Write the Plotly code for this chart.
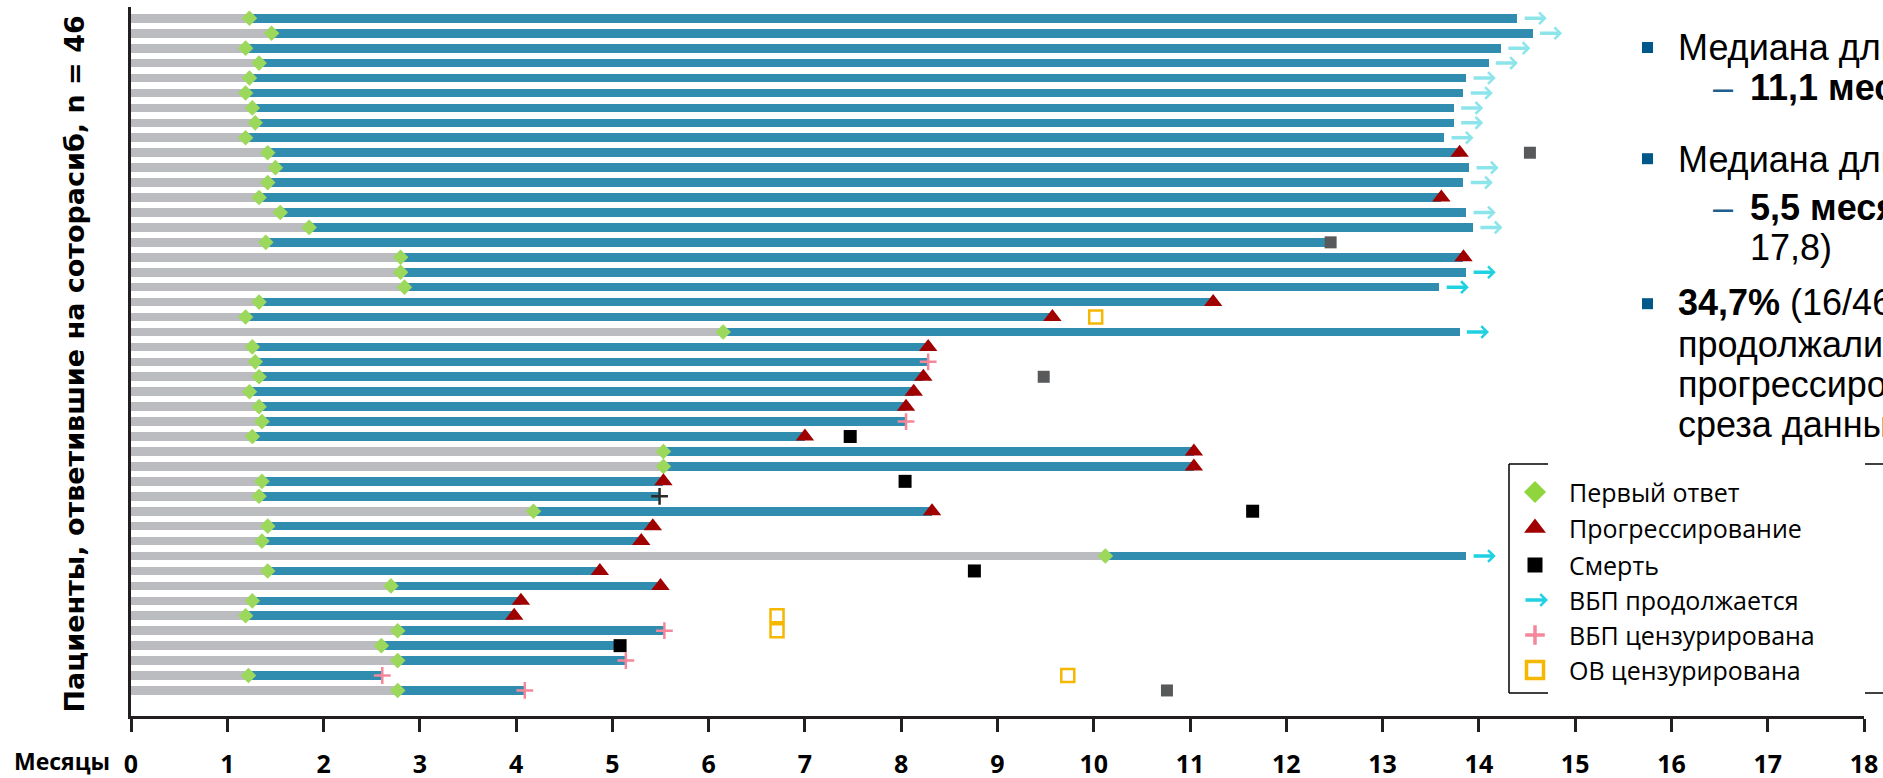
import plotly.graph_objects as go

# ---------------- data: one row per responding patient, top row first ----------------
first_response = [1.23, 1.46, 1.19, 1.33, 1.23, 1.19, 1.26, 1.29, 1.19, 1.42,
                  1.50, 1.42, 1.33, 1.55, 1.85, 1.40, 2.80, 2.80, 2.84, 1.33,
                  1.19, 6.15, 1.26, 1.29, 1.33, 1.23, 1.33, 1.36, 1.26, 5.53,
                  5.53, 1.36, 1.33, 4.18, 1.42, 1.36, 10.12, 1.42, 2.70, 1.26,
                  1.19, 2.77, 2.60, 2.77, 1.22, 2.77]
pfs_end = [14.40, 14.56, 14.23, 14.10, 13.87, 13.84, 13.74, 13.74, 13.64, 13.80,
           13.90, 13.84, 13.61, 13.87, 13.94, 12.40, 13.84, 13.87, 13.59, 11.24,
           9.57, 13.80, 8.28, 8.28, 8.23, 8.13, 8.05, 8.05, 7.00, 11.04,
           11.04, 5.53, 5.49, 8.32, 5.42, 5.30, 13.87, 4.87, 5.50, 4.05,
           3.98, 5.54, 5.03, 5.14, 2.61, 4.09]

progressed_rows = [10, 13, 17, 20, 21, 23, 25, 26, 27, 29, 30, 31, 32, 34, 35, 36,
                   38, 39, 40, 41]
ongoing_rows = [1, 2, 3, 4, 5, 6, 7, 8, 9, 11, 12, 14, 15, 18, 19, 22, 37]
ongoing_pale_rows = [1, 2, 3, 4, 5, 6, 7, 8, 9, 11, 12, 14, 15]
pfs_censored_rows = [24, 28, 42, 44, 45, 46]
pfs_censored_dark_rows = [33]
death_rows = [29, 32, 34, 38, 43]
death_months = [7.47, 8.04, 11.65, 8.76, 5.08]
other_death_rows = [10, 16, 25, 46]
other_death_months = [14.53, 12.46, 9.48, 10.76]
os_censored_rows = [21, 41, 42, 45]
os_censored_months = [10.02, 6.71, 6.71, 9.73]
month_ticks = list(range(0, 19))

legend_labels = ["Первый ответ", "Прогрессирование", "Смерть",
                 "ВБП продолжается", "ВБП цензурирована", "ОВ цензурирована"]

# ---------------- styling ----------------
W, H = 1883, 778
ML, MR, MT, MB = 131, 19, 7, 62
AXIS = "#231F20"
GRAY_BAR = "#BBBCC0"
TEAL = "#318DAF"
GREEN = "#9CD85C"
GREEN_LEG = "#8ED53E"
RED = "#A00000"
DGRAY = "#58595B"
CYAN = "#1FD1E1"
PALE_CYAN = "#8DE5EC"
PINK = "#F4889A"
GOLD = "#F5B700"
BLUE = "#00578A"
SANS = "Liberation Sans, Arial, sans-serif"
LEG_FONT = "Open Sans, sans-serif"

rows = list(range(1, len(first_response) + 1))
end_of = {r: e for r, e in zip(rows, pfs_end)}


def px_x(p):
    return (p - ML) / (W - ML - MR)


def px_y(p):
    return 1 - (p - MT) / (H - MT - MB)


def label(x, y, text, size, family, color="#000000", xanchor="left", angle=0):
    return dict(x=px_x(x), y=px_y(y), xref="paper", yref="paper", text=text,
                showarrow=False, xanchor=xanchor, yanchor="middle", textangle=angle,
                font=dict(family=family, size=size, color=color))


fig = go.Figure()

# time before first response (grey) and response duration (teal)
fig.add_trace(go.Bar(y=rows, x=first_response, base=[0] * len(rows), orientation="h",
                     width=0.58, marker=dict(color=GRAY_BAR, line=dict(width=0)),
                     showlegend=False, hoverinfo="skip"))
fig.add_trace(go.Bar(y=rows, x=[e - f for e, f in zip(pfs_end, first_response)],
                     base=first_response, orientation="h", width=0.58,
                     marker=dict(color=TEAL, line=dict(width=0)),
                     showlegend=False, hoverinfo="skip"))

marker_traces = [
    (first_response, rows, dict(symbol="diamond", size=12, color=GREEN)),
    ([end_of[r] for r in progressed_rows], progressed_rows,
     dict(symbol="triangle-up", size=16, color=RED)),
    (death_months, death_rows, dict(symbol="square", size=13, color="#000000")),
    (other_death_months, other_death_rows, dict(symbol="square", size=12, color=DGRAY)),
    ([end_of[r] for r in pfs_censored_rows], pfs_censored_rows,
     dict(symbol="cross-thin", size=12, color=PINK, line=dict(width=2.5, color=PINK))),
    ([end_of[r] for r in pfs_censored_dark_rows], pfs_censored_dark_rows,
     dict(symbol="cross-thin", size=12, color="#2A2A2A", line=dict(width=2.5, color="#2A2A2A"))),
    (os_censored_months, os_censored_rows,
     dict(symbol="square-open", size=13, color=GOLD, line=dict(width=2.5, color=GOLD))),
]
for xs, ys, mk in marker_traces:
    fig.add_trace(go.Scatter(x=xs, y=ys, mode="markers", marker=mk, cliponaxis=False,
                             showlegend=False, hoverinfo="skip"))

annotations = []
# arrows for patients whose PFS is ongoing
for r in ongoing_rows:
    e = end_of[r]
    col = PALE_CYAN if r in ongoing_pale_rows else CYAN
    annotations.append(dict(x=e + 0.305, y=r, ax=e + 0.06, ay=r, xref="x", yref="y",
                            axref="x", ayref="y", text="", showarrow=True,
                            arrowhead=4, arrowsize=0.65, arrowwidth=3.5, arrowcolor=col,
                            standoff=0, startstandoff=0))

# ---------------- legend (pixel overlay axes) ----------------
leg_x = 1535
leg_y = [492, 528, 565, 600, 635, 670]
leg_marks = [
    dict(symbol="diamond", size=17, color=GREEN_LEG),
    dict(symbol="triangle-up", size=19, color=RED),
    dict(symbol="square", size=15, color="#000000"),
    None,
    dict(symbol="cross-thin", size=14, color=PINK, line=dict(width=3.5, color=PINK)),
    dict(symbol="square-open", size=17, color=GOLD, line=dict(width=3.5, color=GOLD)),
]
for yy, mk in zip(leg_y, leg_marks):
    if mk is None:
        annotations.append(dict(x=1548, y=yy, ax=1524, ay=yy, xref="x2", yref="y2",
                                axref="x2", ayref="y2", text="", showarrow=True,
                                arrowhead=4, arrowsize=0.65, arrowwidth=3.5, arrowcolor=CYAN,
                                standoff=0, startstandoff=0))
        continue
    fig.add_trace(go.Scatter(x=[leg_x], y=[yy], xaxis="x2", yaxis="y2", mode="markers",
                             marker=mk, cliponaxis=False, showlegend=False,
                             hoverinfo="skip"))
for yy, lab in zip(leg_y, legend_labels):
    annotations.append(label(1567, yy, lab, 25, LEG_FONT))

shapes = []
box_l, box_t, box_b = 1509, 464, 693
line = dict(color="#000000", width=1.5)
shapes.append(dict(type="line", xref="paper", yref="paper", x0=px_x(box_l), x1=px_x(box_l),
                   y0=px_y(box_t), y1=px_y(box_b), line=line))
for yy in (box_t, box_b):
    for x0, x1 in ((box_l, 1548), (1865, 1883)):
        shapes.append(dict(type="line", xref="paper", yref="paper", x0=px_x(x0), x1=px_x(x1),
                           y0=px_y(yy), y1=px_y(yy), line=line))

# ---------------- summary text on the right ----------------
for cy in (47.5, 158.7, 303.7):
    shapes.append(dict(type="rect", xref="paper", yref="paper", x0=px_x(1642), x1=px_x(1653),
                       y0=px_y(cy - 5.5), y1=px_y(cy + 5.5), fillcolor=BLUE,
                       line=dict(width=0)))

text_lines = [
    (1676, 47.8, "Медиана длительности ответа"),
    (1748, 87.8, "<b>11,1 месяца</b> (95% ДИ)"),
    (1676, 159.4, "Медиана длительности ВБП"),
    (1748, 207.8, "<b>5,5 месяца</b> (95% ДИ:"),
    (1748, 247.8, "17,8)"),
    (1676, 302.8, "<b>34,7%</b> (16/46) пациентов"),
    (1676, 344.4, "продолжали ответ без"),
    (1676, 384.4, "прогрессирования на момент"),
    (1676, 424.4, "среза данных"),
]
for x, y, t in text_lines:
    annotations.append(label(x, y, t, 36, SANS))
for y in (87.8, 207.8):
    annotations.append(label(1711, y, "–", 36, SANS, color="#1F5F8F"))

# axis titles
annotations.append(label(74, 364.5, "<b>Пациенты, ответившие на соторасиб, n = 46</b>",
                         27, "DejaVu Sans, sans-serif", xanchor="center", angle=-90))
annotations.append(label(62, 761, "<b>Месяцы</b>", 23, LEG_FONT, xanchor="center"))

fig.update_layout(
    width=W, height=H,
    margin=dict(l=ML, r=MR, t=MT, b=MB, pad=0, autoexpand=False),
    paper_bgcolor="white", plot_bgcolor="white",
    barmode="overlay", bargap=0,
    showlegend=False,
    font=dict(family=LEG_FONT, color="#000000"),
    xaxis=dict(range=[0, 18], tickmode="array", tickvals=month_ticks,
               ticktext=["<b>%d</b>" % m for m in month_ticks],
               ticks="outside", ticklen=13, tickwidth=3, tickcolor=AXIS,
               showline=True, linewidth=3, linecolor=AXIS, automargin=False,
               showgrid=False, zeroline=False, ticklabelstandoff=11,
               tickfont=dict(family=LEG_FONT, size=25, color="#000000")),
    yaxis=dict(range=[47.71, 0.244], showline=True, linewidth=3, linecolor=AXIS,
               automargin=False, showticklabels=False, ticks="", showgrid=False,
               zeroline=False),
    xaxis2=dict(overlaying="x", anchor="y2", range=[ML, W - MR], visible=False,
                automargin=False),
    yaxis2=dict(overlaying="y", anchor="x2", range=[H - MB, MT], visible=False,
                automargin=False),
    annotations=annotations,
    shapes=shapes,
)

fig.write_html("out.html")
